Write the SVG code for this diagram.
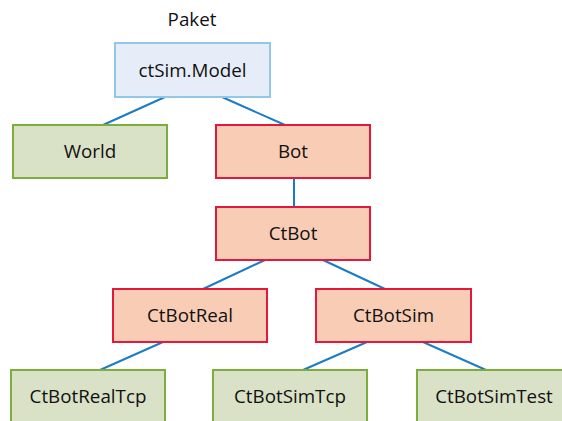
<svg xmlns="http://www.w3.org/2000/svg" width="562" height="421" viewBox="0 0 562 421">
  <style>
    .box rect { stroke-width: 2; }
    .pkg rect { fill: #e6edf8; stroke: #93c7ea; }
    .leaf rect { fill: #d9e1c7; stroke: #7dae3c; }
    .bot rect { fill: #f9cdb5; stroke: #e2183c; }
    text { font-family: "Open Sans", "Noto Sans", sans-serif; font-size: 18.8px; fill: #111111; text-anchor: middle; }
    .edges line { stroke: #1b7cc3; stroke-width: 2; }
  </style>
  <rect width="562" height="421" fill="#ffffff"/>

  <text x="192" y="26">Paket</text>

  <g class="edges">
    <line x1="165" y1="97" x2="103" y2="125"/>
    <line x1="222" y1="97" x2="285" y2="125"/>
    <line x1="294" y1="178" x2="294" y2="207"/>
    <line x1="265" y1="260" x2="203" y2="289"/>
    <line x1="323" y1="260" x2="385" y2="289"/>
    <line x1="163" y1="342" x2="100" y2="370"/>
    <line x1="367" y1="342" x2="303" y2="370"/>
    <line x1="423" y1="342" x2="486" y2="370"/>
  </g>

  <g id="ctSimModel" class="box pkg">
    <rect x="115" y="43" width="155" height="54"/>
    <text x="192.5" y="76.5">ctSim.Model</text>
  </g>
  <g id="World" class="box leaf">
    <rect x="13" y="125" width="154" height="53"/>
    <text x="90" y="158">World</text>
  </g>
  <g id="Bot" class="box bot">
    <rect x="216" y="125" width="154" height="53"/>
    <text x="293" y="158">Bot</text>
  </g>
  <g id="CtBot" class="box bot">
    <rect x="216" y="207" width="154" height="53"/>
    <text x="293" y="240">CtBot</text>
  </g>
  <g id="CtBotReal" class="box bot">
    <rect x="113" y="289" width="154" height="53"/>
    <text x="190" y="322">CtBotReal</text>
  </g>
  <g id="CtBotSim" class="box bot">
    <rect x="316" y="289" width="155" height="53"/>
    <text x="393.5" y="322">CtBotSim</text>
  </g>
  <g id="CtBotRealTcp" class="box leaf">
    <rect x="11" y="370" width="154" height="60"/>
    <text x="88" y="403">CtBotRealTcp</text>
  </g>
  <g id="CtBotSimTcp" class="box leaf">
    <rect x="213" y="370" width="154" height="60"/>
    <text x="290" y="403">CtBotSimTcp</text>
  </g>
  <g id="CtBotSimTest" class="box leaf">
    <rect x="417" y="370" width="154" height="60"/>
    <text x="494" y="403">CtBotSimTest</text>
  </g>
</svg>
